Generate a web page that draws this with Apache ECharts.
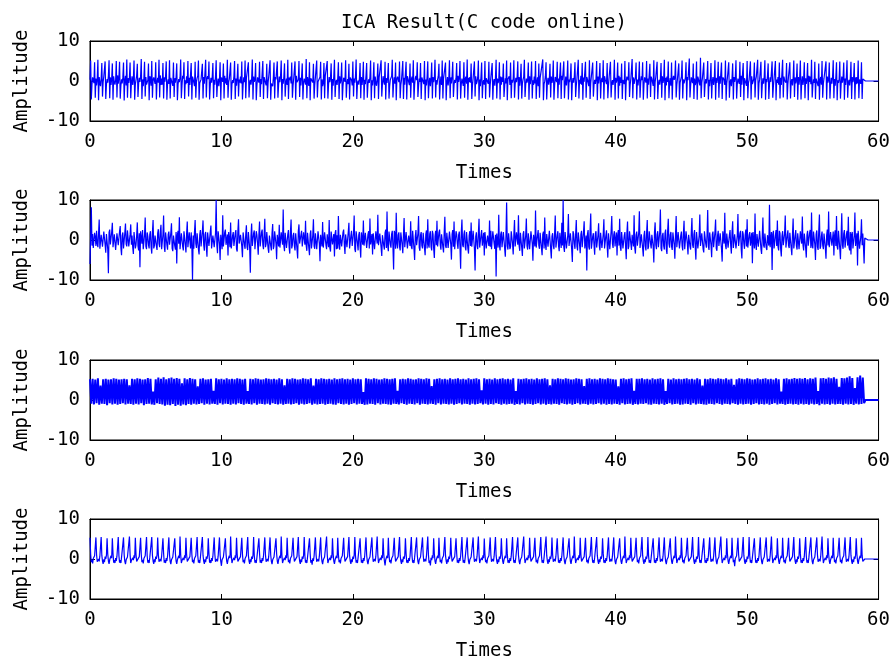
<!DOCTYPE html>
<html>
<head>
<meta charset="utf-8">
<script src="https://cdn.jsdelivr.net/npm/echarts@6/dist/echarts.min.js"></script>
<style>
html,body{margin:0;padding:0;background:#fff;}
#chart{width:893px;height:663px;}
</style>
</head>
<body>
<div id="chart"></div>
<script>
const titleText = 'ICA Result(C code online)';
const xLabelName = 'Times';
const yLabelName = 'Amplitude';
const xTicks = [0, 10, 20, 30, 40, 50, 60];
const yTicks = [-10, 0, 10];
// sampling step (seconds) of each component; sample i is at time i*step, from 0 to 60
const sampleSteps = [0.05, 0.05, 0.1, 0.05];

// Component 1 (one row = 3 s)
const comp1 = [
0.3,5.1,-4.6,-0.8,0.9,1.2,-0.5,4.7,-4.2,0.6,-1.1,0.4,5.3,-4.8,1.0,-0.6,-1.3,0.7,4.5,-3.9,-0.2,1.1,0.8,4.9,-4.5,-0.9,0.5,-0.4,1.3,5.2,-4.3,0.9,-1.0,0.6,4.4,-4.7,1.2,-0.3,-0.9,0.2,5.0,-4.1,1.4,-0.7,1.0,4.8,-4.4,-1.2,0.4,-0.6,0.9,4.6,-4.9,0.1,1.3,-1.1,5.4,-4.2,0.7,-0.5,
0.9,4.6,-4.3,-0.4,1.2,-1.0,0.5,5.1,-4.7,-0.8,0.3,1.3,4.3,-4.0,-0.6,0.8,-0.2,1.1,5.5,-4.5,0.4,-1.3,0.7,4.8,-3.9,1.0,-0.9,-0.5,0.2,4.4,-4.8,1.2,0.6,-1.2,5.0,-4.2,0.3,0.9,1.1,-0.7,4.7,-4.6,-0.3,0.8,-0.4,5.3,-4.1,1.4,-1.0,0.6,-0.9,4.5,-4.4,0.9,-0.2,1.2,4.9,-4.7,-0.6,0.4,
-0.7,5.2,-4.4,0.8,1.1,0.3,-1.2,4.6,-4.0,0.7,-0.4,1.0,4.4,-4.8,-0.9,0.5,-0.3,0.9,5.4,-4.3,-1.1,1.3,0.6,4.7,-4.5,0.2,-0.8,1.2,-0.5,5.0,-3.9,0.8,-1.0,-0.6,4.5,-4.6,1.1,0.4,0.9,-1.3,4.8,-4.2,-0.2,0.7,1.3,5.1,-4.7,-0.5,-1.0,0.4,0.8,4.3,-4.4,1.0,-0.7,-0.9,5.3,-4.1,0.6,1.2,
0.5,4.9,-4.6,-1.1,0.8,-0.4,1.0,4.5,-4.3,0.3,-0.9,1.2,5.2,-4.0,-0.7,0.6,-1.3,0.4,4.7,-4.8,0.9,1.1,-0.2,4.4,-4.4,1.3,-0.6,0.7,-1.0,5.3,-4.2,-0.3,0.5,1.0,4.6,-4.7,-0.8,0.2,-0.5,1.2,5.0,-4.5,0.6,-1.2,0.8,4.3,-3.9,0.4,-0.4,1.1,-0.6,4.9,-4.6,-1.0,0.9,-0.3,5.1,-4.3,0.7,1.0,
1.2,4.7,-4.1,-0.5,0.3,-0.9,0.6,5.4,-4.6,1.1,-0.2,0.4,4.5,-4.8,-1.2,0.9,1.3,-0.4,4.8,-4.0,0.5,-0.8,-0.7,5.0,-4.5,1.0,0.2,0.6,-1.1,4.3,-4.3,-0.4,1.2,0.9,5.2,-4.7,-0.6,-0.1,-1.3,0.8,4.6,-4.4,1.0,0.4,0.1,4.9,-4.2,-0.9,1.1,-0.3,1.3,5.1,-4.8,0.5,-0.7,1.0,4.4,-3.9,-0.4,0.6,
-1.0,5.3,-4.5,0.9,0.2,1.1,-0.6,4.6,-4.2,-1.2,0.7,0.5,4.9,-4.7,1.3,-0.3,-0.8,0.4,5.0,-4.0,0.8,-1.1,1.2,4.4,-4.6,-0.5,0.6,0.3,-0.9,5.5,-4.3,1.0,-0.2,-1.2,4.7,-4.8,0.7,1.1,0.6,-0.4,4.3,-4.4,-0.9,0.9,1.3,5.1,-4.1,-0.2,-0.7,0.2,1.0,4.8,-4.6,0.4,-1.3,-0.5,4.5,-4.3,1.2,0.8,
0.7,5.0,-4.4,-0.9,1.0,-0.3,0.9,4.4,-4.7,0.5,-1.2,1.1,5.3,-4.0,-0.4,0.3,-1.0,0.6,4.7,-4.5,1.2,-0.6,0.4,4.6,-4.8,-1.3,0.8,1.0,-0.2,5.2,-4.2,-0.7,0.5,-0.8,4.3,-4.6,0.9,1.3,0.2,-1.1,4.9,-3.9,0.6,-0.4,1.2,5.4,-4.5,-0.6,0.1,-0.9,0.7,4.5,-4.3,1.0,-1.0,0.5,4.8,-4.7,0.3,-0.8,
1.3,4.5,-4.2,-0.7,0.4,-0.5,1.0,5.1,-4.8,0.2,-1.1,0.8,4.7,-4.3,1.1,-0.4,-1.2,0.3,4.4,-4.5,0.9,0.6,0.5,5.2,-3.9,-0.8,1.2,-0.1,-0.9,4.8,-4.6,0.7,-0.5,1.0,4.5,-4.4,-1.3,0.3,0.6,1.2,5.3,-4.1,-0.6,0.9,-0.7,4.6,-4.8,0.4,1.1,1.2,-0.3,4.9,-4.3,-1.0,0.2,0.3,5.0,-4.5,0.8,-0.9,
-0.6,4.8,-4.6,1.2,0.5,0.9,-1.0,4.4,-4.2,0.3,1.1,-0.4,5.2,-4.7,-0.9,0.7,1.3,0.2,4.7,-4.0,-1.2,0.6,-0.2,4.5,-4.5,0.9,1.0,0.5,-0.8,5.0,-4.8,0.4,-1.1,1.1,4.9,-4.3,-0.5,0.8,-1.3,0.6,4.6,-4.4,1.0,-0.3,0.7,5.3,-4.1,0.2,-0.9,0.4,1.2,4.3,-4.6,-0.7,1.1,-1.0,5.1,-4.4,0.6,0.3,
0.8,4.6,-4.8,-0.4,1.0,-1.1,0.5,5.2,-4.3,0.9,-0.6,1.2,4.8,-4.0,-1.0,0.3,-0.5,0.7,4.5,-4.6,1.3,-0.2,0.9,5.0,-4.4,-0.8,0.6,0.2,-1.2,4.7,-4.2,0.5,1.1,-0.7,5.4,-4.7,0.8,-0.3,1.0,-0.4,4.4,-4.5,-1.1,0.7,0.6,4.9,-3.9,1.2,-0.8,-0.2,0.9,5.1,-4.8,0.4,-1.3,1.1,4.6,-4.3,-0.5,0.2,
-0.9,5.0,-4.5,0.7,1.2,0.4,-0.7,4.8,-4.1,-1.0,0.9,1.3,4.5,-4.7,-0.3,0.5,-1.2,0.8,5.3,-4.4,0.6,-0.5,0.2,4.7,-4.6,1.1,-0.9,0.9,-0.2,4.4,-4.0,-1.3,0.7,-0.6,5.1,-4.8,0.5,1.0,1.2,-1.0,4.6,-4.3,0.3,-0.4,0.5,5.2,-4.2,-0.8,0.8,-0.3,1.1,4.9,-4.6,1.0,-1.2,0.7,4.3,-4.4,-0.6,0.4,
1.0,5.3,-4.0,-1.1,0.6,-0.4,0.3,4.6,-4.7,1.2,-0.8,0.8,4.9,-4.4,0.2,-1.0,1.1,-0.6,5.0,-4.5,-0.3,0.9,-1.3,4.4,-4.2,0.7,0.5,0.6,1.0,5.4,-4.8,-0.7,-0.1,1.2,4.7,-4.6,-0.4,0.8,-0.9,0.4,4.3,-4.1,1.1,-0.5,0.3,5.1,-4.7,-1.2,1.0,0.9,-0.3,4.8,-4.3,0.6,-0.9,-0.5,4.6,-4.5,1.3,0.2,
0.6,4.9,-4.3,-0.8,1.1,-1.1,0.9,5.1,-4.6,0.4,-0.3,1.0,4.4,-4.8,-0.5,0.7,-0.4,1.2,4.7,-4.0,-1.2,0.5,0.8,5.3,-4.4,0.3,-0.7,1.3,-0.9,4.5,-4.7,0.9,-0.2,-0.6,4.8,-4.2,1.0,0.4,0.5,-1.3,5.2,-4.5,-0.4,1.2,0.9,4.6,-3.9,-1.0,0.3,-0.7,0.6,5.0,-4.8,1.1,-0.6,1.2,4.5,-4.4,-0.2,0.8,
-0.3,5.2,-4.6,1.2,0.4,0.7,-0.8,4.5,-4.3,-1.1,1.0,1.1,4.8,-4.1,-0.6,0.2,-1.0,0.5,5.3,-4.7,0.8,-0.4,0.4,4.6,-4.4,1.3,-1.2,0.9,-0.5,4.4,-4.5,0.3,0.7,-0.8,5.0,-4.8,-0.2,1.1,1.3,0.2,4.7,-4.0,-0.9,0.5,0.6,5.5,-4.3,0.9,-0.7,-0.4,1.0,4.6,-4.6,0.4,-1.1,0.8,4.9,-4.2,-0.5,1.2,
0.2,4.7,-4.7,-1.0,0.9,1.2,-0.4,5.0,-4.4,0.6,-0.9,-0.6,4.3,-4.0,1.1,0.5,0.8,-1.2,5.2,-4.6,-0.3,1.0,1.0,4.8,-4.5,-0.7,0.3,-0.9,0.6,4.5,-4.2,1.2,-0.5,0.4,5.3,-4.8,0.8,-1.1,1.1,-0.2,4.9,-4.3,-0.6,0.7,-1.2,4.6,-4.6,0.5,1.3,0.3,0.9,5.1,-4.1,-1.0,0.6,0.7,4.4,-4.7,-0.4,-0.8,
1.1,5.1,-4.4,0.4,-0.6,-0.8,0.8,4.7,-4.8,1.0,0.2,0.5,5.6,-4.1,-1.2,0.9,1.3,-0.5,4.4,-4.5,0.6,-1.0,-0.3,4.9,-4.7,1.1,0.4,0.7,-1.1,5.8,-4.3,-0.4,0.8,1.0,4.6,-4.0,-0.9,0.5,-0.6,1.2,5.0,-4.6,0.3,-1.3,0.9,4.5,-4.4,-0.2,1.0,-1.0,0.4,5.2,-4.7,0.8,-0.5,0.6,4.8,-4.2,1.2,-0.7,
-0.5,4.6,-4.5,0.9,1.1,0.3,-1.0,5.1,-4.9,-0.6,0.8,1.2,4.7,-4.2,-0.4,0.4,-1.3,0.6,4.4,-4.6,1.0,-0.2,0.8,5.2,-4.4,-0.8,0.6,0.1,-0.7,4.8,-4.0,1.3,-0.9,-0.4,4.5,-4.8,0.7,1.0,1.1,-1.2,5.0,-4.3,-0.5,0.3,0.6,4.9,-4.6,1.2,-0.8,-0.9,0.5,4.6,-4.1,0.2,1.1,1.0,5.3,-4.7,-0.6,0.4,
0.4,4.8,-4.3,-1.1,0.7,-0.7,1.1,5.2,-4.7,0.5,-0.3,1.3,4.4,-4.5,-0.8,0.9,-0.2,0.3,4.9,-4.2,-1.2,0.6,0.9,5.0,-4.8,0.4,-0.5,1.0,-0.9,4.6,-4.4,0.8,-1.0,-0.6,5.3,-4.1,1.1,0.2,0.7,-0.4,4.5,-4.6,-0.8,1.2,1.2,4.7,-4.4,-0.3,0.5,-1.1,0.8,5.1,-4.0,0.9,-0.6,0.3,4.4,-4.7,1.0,-0.9,
0.9,5.1,-4.6,-0.4,1.2,-1.0,0.5,4.7,-4.3,0.7,-0.7,0.6,4.5,-4.8,1.3,-0.2,1.1,-0.8,5.3,-4.1,-1.1,0.4,-0.5,4.8,-4.5,0.6,0.9,0.8,-1.3,4.4,-4.7,0.3,1.0,-0.9,5.0,-4.2,-0.6,0.7,1.2,0.2,4.9,-4.6,1.1,-0.4,0.4,4.6,-4.4,-1.0,0.8,-0.7,1.0,5.2,-4.3,0.5,-1.2,1.0,4.7,-4.8,0.2,-0.5,
0.5,4.9,-4.4,-0.9,1.1,-0.4,0.8,4.6,-4.7,0.6,-1.0,1.2,5.2,-4.2,-0.5,0.3,-1.1,0.7,4.8,-4.5,1.0,-0.3,0.6,4.5,-4.6,0.9,-0.8,1.0,-0.6,5.1,-4.3,0.4,0.8,-0.7,4.7,-4.5,0.5,0.2,0,0,0,0,0,0,0,0,0,0,0,0,0,0,0,0,0,0,0,0,0,0,
0
];

// Component 2 (one row = 3 s)
const comp2 = [
-6.0,1.2,8.2,-1.4,1.5,-2.0,-2.1,1.8,0.8,-1.5,2.3,-0.9,-1.8,1.6,5.1,-2.2,-2.4,1.3,1.2,-1.7,-1.5,2.1,2.0,-1.2,-3.2,1.5,1.7,-2.3,-8.3,1.9,2.6,-1.1,-0.9,2.0,4.3,-1.8,-2.2,1.4,1.4,-2.5,-2.7,1.7,2.1,-1.3,-1.0,2.2,3.5,-1.9,-3.8,1.1,1.9,-2.1,-2.3,1.8,4.1,-1.0,-1.6,2.4,2.2,-1.6,
-2.0,1.4,3.9,-1.2,1.1,-1.8,-3.5,2.0,2.4,-2.1,-1.2,1.1,4.4,-1.5,-2.6,1.7,-6.8,2.2,1.8,-0.9,2.5,-2.3,-1.9,1.3,5.6,-1.6,-2.3,1.9,0.9,-1.2,-2.1,1.4,2.2,-1.8,-3.4,2.0,5.0,-2.1,-1.4,1.1,1.6,-1.5,-2.5,1.7,2.7,-0.9,-1.8,2.2,3.8,-2.3,-2.2,1.3,6.1,-1.6,-3.0,1.9,1.5,-1.2,-2.4,1.4,
2.1,-1.2,-1.7,1.8,4.2,-2.1,-2.8,1.1,1.3,-1.5,-2.4,2.0,-5.9,1.3,2.3,-0.9,5.7,-2.3,-1.9,1.7,1.4,-1.6,-2.6,2.2,2.0,-1.2,-3.1,1.4,4.6,-1.8,-1.5,1.9,2.4,-2.1,1.9,-1.5,-10.0,1.1,-2.2,2.0,5.0,-0.9,-2.0,1.7,1.6,-2.3,-3.6,1.3,2.5,-1.6,-1.3,2.2,4.9,-1.2,-2.7,1.4,2.0,-1.8,-4.2,1.9,
2.3,-1.5,-1.8,2.0,3.6,-2.1,-2.5,1.1,1.1,-1.8,-2.0,1.7,10.0,-1.2,-3.3,2.2,2.2,-0.9,-5.0,1.3,1.7,-2.3,6.2,-1.6,-2.1,1.9,2.6,-1.2,-1.4,1.4,-3.9,2.0,1.8,-1.8,4.4,-2.1,-2.4,1.1,2.0,-1.5,-1.6,1.7,2.5,-2.3,-2.9,2.2,5.2,-0.9,-1.1,1.3,1.5,-1.6,-4.3,1.9,2.3,-1.2,-2.2,1.4,3.7,-1.8,
-2.5,2.0,1.9,-2.1,-8.2,1.1,4.1,-1.5,-1.3,1.7,2.4,-2.3,-2.0,2.2,1.2,-0.9,-3.7,1.3,4.6,-1.6,-1.8,1.9,2.6,-1.2,-2.3,1.4,5.3,-1.8,-1.0,2.0,2.0,-2.1,-3.2,1.1,1.6,-1.5,-2.6,1.7,4.0,-2.3,-1.5,2.2,2.2,-0.9,-4.8,1.3,1.4,-1.6,3.8,-1.9,-2.4,1.9,1.7,-1.2,7.6,-1.4,-2.8,1.8,2.1,-2.0,
-1.9,1.4,2.5,-1.8,-3.4,2.0,5.1,-2.1,-1.2,1.1,1.8,-1.5,-2.6,1.7,2.0,-2.3,-4.6,2.2,3.9,-0.9,-1.4,1.3,2.3,-1.6,-2.1,1.9,1.5,-1.2,4.8,-1.4,-2.7,1.8,1.9,-2.0,-3.8,1.4,2.4,-2.1,-1.6,1.1,5.2,-1.5,-2.2,1.7,1.7,-2.3,-2.5,2.2,2.6,-0.9,-5.3,1.3,1.3,-1.6,4.5,-1.9,-1.8,1.9,2.2,-1.2,
-2.3,1.4,1.6,-1.8,5.0,-2.0,-2.9,2.1,2.1,-1.1,-1.5,1.5,-4.1,1.7,2.5,-2.3,1.2,-2.2,6.0,-0.9,-2.4,1.3,1.8,-1.6,-2.0,1.9,2.6,-1.2,-3.5,1.4,1.4,-1.8,-1.7,2.0,4.3,-2.1,-2.5,1.1,2.3,-1.5,-1.2,1.7,6.1,-2.3,-3.0,2.2,1.9,-0.9,-2.6,1.3,2.0,-1.6,-4.4,1.9,2.4,-1.2,4.9,-1.4,-1.9,1.8,
1.7,-2.0,-2.5,1.4,2.2,-2.1,5.4,-1.1,-1.4,1.5,-3.6,1.7,1.9,-2.3,-2.2,2.2,2.5,-0.9,6.3,-1.3,-1.6,1.6,2.1,-1.9,-4.0,1.2,1.5,-1.4,-2.4,1.8,2.6,-2.0,7.1,-1.4,-2.8,2.1,1.8,-1.1,-1.9,1.5,2.3,-1.7,-7.4,2.3,1.6,-2.2,6.8,-0.9,-2.1,1.3,1.9,-1.6,-2.6,1.9,2.4,-1.2,-3.3,1.4,5.5,-1.8,
-1.8,2.0,2.2,-2.1,-2.5,1.1,1.6,-1.5,4.7,-1.7,-2.3,2.3,1.9,-2.2,-5.0,0.9,2.5,-1.3,-1.5,1.6,6.0,-1.9,-2.7,1.2,2.0,-1.4,-2.1,1.8,1.7,-2.0,-3.8,1.4,2.4,-2.1,5.2,-1.1,-1.9,1.5,2.2,-1.7,-2.6,2.3,1.5,-2.2,-4.5,0.9,2.3,-1.3,4.8,-1.6,-1.7,1.9,2.6,-1.2,-2.4,1.4,1.8,-1.8,-3.1,2.0,
5.8,-1.4,-2.0,1.8,2.3,-2.0,-1.6,2.1,1.9,-1.1,-4.9,1.5,2.5,-1.7,4.6,-2.3,-2.5,2.2,1.4,-0.9,-2.2,1.3,2.1,-1.6,-7.2,1.9,5.1,-1.2,-1.8,1.4,2.4,-1.8,-2.6,2.0,1.7,-2.1,-3.4,1.1,2.2,-1.5,4.4,-1.7,-1.5,2.3,2.6,-2.2,-7.6,0.9,1.9,-1.3,-2.3,1.6,5.3,-1.9,-2.0,1.2,2.5,-1.4,-1.4,1.8,
-3.9,2.0,2.0,-2.1,-2.5,1.1,1.6,-1.5,4.9,-1.7,2.3,-2.3,-1.8,2.2,2.5,-0.9,-2.2,1.3,-9.1,1.6,1.7,-1.9,6.3,-1.2,-2.6,1.4,2.1,-1.8,-1.5,2.0,2.2,-2.1,-4.2,1.1,9.4,-1.5,-2.4,1.7,1.9,-2.3,-1.7,2.2,2.6,-0.9,-3.6,1.3,5.0,-1.6,-2.0,1.9,2.4,-1.2,6.2,-1.4,-2.7,1.8,1.8,-2.0,-4.0,1.4,
2.2,-2.1,-1.9,1.1,5.4,-1.5,-2.4,1.7,1.6,-2.3,-2.6,2.2,2.3,-0.9,-5.2,1.3,1.8,-1.6,7.4,-1.9,-1.7,1.2,2.5,-1.4,-2.2,1.8,1.4,-2.0,-3.8,1.4,2.1,-2.1,5.6,-1.1,-2.5,1.5,1.9,-1.7,-1.6,2.3,2.4,-2.2,-4.6,0.9,1.7,-1.3,-2.3,1.6,6.1,-1.9,-1.5,1.2,2.2,-1.4,-2.8,1.8,1.6,-2.0,4.3,-1.4,
10.0,-1.8,-3.0,2.0,2.4,-2.1,-2.5,1.1,6.5,-1.5,-1.8,1.7,2.1,-2.3,-5.5,2.2,1.5,-0.9,-2.2,1.3,5.0,-1.6,-2.6,1.9,1.8,-1.2,-3.3,1.4,2.3,-1.8,-1.6,2.0,4.7,-2.1,-2.1,1.1,-7.6,1.5,2.5,-1.7,-2.4,2.3,6.6,-2.2,-1.9,0.9,1.7,-1.3,-3.7,1.6,2.2,-1.9,-1.5,1.2,4.2,-1.4,-2.6,1.8,1.9,-2.0,
-2.3,1.4,5.2,-2.1,-1.8,1.1,2.4,-1.5,-4.4,1.7,1.6,-2.3,-2.5,2.2,6.0,-0.9,-2.0,1.3,2.2,-1.6,-1.4,1.9,-3.9,1.2,2.5,-1.4,5.3,-1.8,-2.7,2.0,1.8,-2.1,-2.2,1.1,2.0,-1.5,-4.8,1.7,4.6,-2.3,-1.6,2.2,2.4,-0.9,-2.5,1.3,1.7,-1.6,6.2,-1.9,-3.4,1.2,2.1,-1.4,-1.9,1.8,7.2,-2.0,-2.4,1.4,
1.9,-2.1,-4.1,1.1,2.3,-1.5,-2.6,1.7,5.0,-2.3,-1.7,2.2,2.5,-0.9,-2.1,1.3,1.6,-1.6,-5.6,1.9,4.4,-1.2,-2.3,1.4,2.2,-1.8,-1.5,2.0,7.6,-2.1,-2.8,1.1,1.8,-1.5,-2.4,1.7,2.6,-2.3,-3.5,2.2,5.3,-0.9,-1.9,1.3,2.0,-1.6,-2.5,1.9,1.4,-1.2,-4.7,1.4,6.0,-1.8,-2.2,2.0,2.4,-2.1,-1.6,1.1,
2.1,-1.5,-2.6,1.7,4.8,-2.3,-1.8,2.2,2.3,-0.9,-3.6,1.3,1.7,-1.6,-2.4,1.9,5.5,-1.2,-2.0,1.4,2.5,-1.8,-4.9,2.0,1.6,-2.1,-2.2,1.1,6.4,-1.5,-1.5,1.7,2.2,-2.3,-3.1,2.2,2.4,-0.9,-1.9,1.3,7.5,-1.6,-2.5,1.9,1.8,-1.2,-4.3,1.4,2.1,-1.8,-1.6,2.0,5.1,-2.1,-2.7,1.1,2.3,-1.5,-2.0,1.7,
1.7,-2.3,-5.4,2.2,2.4,-0.9,6.8,-1.3,-2.3,1.6,2.0,-1.9,-1.6,1.2,2.5,-1.4,-3.4,1.8,4.7,-2.0,-2.1,1.4,1.9,-2.1,-2.6,1.1,6.5,-1.5,-1.8,1.7,2.3,-2.3,-4.6,2.2,1.5,-0.9,-2.2,1.3,2.6,-1.6,5.2,-1.9,-2.4,1.2,2.0,-1.4,-1.7,1.8,-5.8,2.0,2.2,-2.1,6.6,-1.1,-2.5,1.5,1.8,-1.7,-2.1,2.3,
2.4,-2.2,-3.5,0.9,5.6,-1.3,-1.9,1.6,2.1,-1.9,-2.5,1.2,1.6,-1.4,8.8,-1.8,-2.2,2.0,-7.5,1.4,2.3,-2.1,-1.8,1.1,2.5,-1.5,4.9,-1.7,-2.6,2.3,1.7,-2.2,-4.1,0.9,2.2,-1.3,-1.5,1.6,6.1,-1.9,-2.3,1.2,2.4,-1.4,-2.0,1.8,1.9,-2.0,-3.8,1.4,5.4,-2.1,-1.7,1.1,2.5,-1.5,-2.4,1.7,1.6,-2.3,
-2.2,2.2,2.0,-0.9,5.9,-1.3,-2.6,1.6,1.8,-1.9,-4.4,1.2,2.3,-1.4,-1.9,1.8,2.5,-2.0,6.9,-1.4,-2.1,2.1,1.7,-1.1,-5.0,1.5,2.4,-1.7,-2.5,2.3,6.4,-2.2,-1.6,0.9,2.1,-1.3,-2.3,1.6,1.9,-1.9,-4.7,1.2,2.6,-1.4,7.1,-1.8,-2.0,2.0,2.2,-1.4,-1.8,2.1,-3.9,1.1,2.4,-1.5,6.0,-1.7,-2.4,2.3,
2.1,-2.2,-4.8,0.9,6.7,-1.3,-2.2,1.6,2.5,-1.9,-1.7,1.2,2.3,-1.4,5.8,-1.8,-2.6,2.0,-3.6,1.4,2.0,-2.1,-2.1,1.1,6.9,-1.5,-1.9,1.7,-6.4,2.3,2.4,-2.2,-2.5,0.9,5.2,-1.3,1.6,-1.6,-5.9,0.5,0,0,0,0,0,0,0,0,0,0,0,0,0,0,0,0,0,0,0,0,
0
];

// Component 3 (one row = 3 s)
const comp3 = [
5.2,-0.9,5.3,-1.1,5.1,-0.8,5.4,-1.2,3.6,-0.9,5.2,-1.0,5.3,-1.3,5.1,-0.8,5.2,-1.1,5.4,-0.9,5.3,-1.2,5.1,-1.0,5.2,-0.8,5.3,-1.1,5.2,-0.9,
3.7,-1.0,5.3,-1.2,5.2,-0.9,5.4,-1.1,5.3,-0.8,5.1,-1.3,5.2,-1.0,5.5,-0.9,5.3,-1.1,2.1,-1.2,5.2,-0.8,5.6,-1.0,5.3,-1.1,5.7,-1.4,5.2,-1.2,
5.4,-1.3,5.6,-1.0,5.3,-1.5,5.5,-1.2,5.3,-1.4,4.2,-1.1,5.4,-1.3,5.2,-1.0,5.5,-1.2,5.3,-0.9,5.2,-1.1,3.4,-1.0,5.3,-0.8,5.4,-1.2,5.1,-0.9,
5.2,-1.1,5.3,-0.9,2.3,-1.0,5.4,-1.2,5.2,-0.8,5.3,-1.1,5.1,-0.9,5.4,-1.0,5.2,-1.2,5.3,-0.9,5.2,-1.1,5.4,-0.8,5.3,-1.0,5.1,-1.2,5.3,-0.9,
2.2,-1.0,5.3,-1.1,5.2,-0.8,5.4,-1.2,5.3,-0.9,5.1,-1.0,5.2,-1.1,5.4,-0.9,5.3,-1.2,5.2,-0.8,5.3,-1.0,5.1,-1.1,5.4,-0.9,5.2,-1.2,3.7,-1.0,
5.3,-0.9,5.2,-1.1,5.4,-1.0,5.3,-0.8,5.1,-1.2,5.2,-0.9,5.4,-1.1,5.3,-1.0,5.2,-0.8,5.4,-1.2,3.6,-0.9,5.3,-1.1,5.2,-1.0,5.4,-0.9,5.3,-1.2,
5.2,-1.0,5.3,-0.9,5.1,-1.1,5.4,-1.2,5.2,-0.8,5.3,-1.0,5.4,-1.1,5.2,-0.9,5.3,-1.2,5.1,-1.0,5.4,-0.8,5.2,-1.1,5.3,-0.9,5.2,-1.0,2.0,-1.2,
5.4,-1.1,5.3,-0.9,5.2,-1.0,5.4,-1.2,5.3,-0.8,5.1,-1.1,5.2,-0.9,5.4,-1.0,5.3,-1.1,5.2,-1.2,5.3,-0.9,5.4,-1.0,2.3,-1.1,5.2,-0.8,5.3,-1.0,
5.2,-1.2,5.4,-0.9,5.3,-1.0,5.1,-1.1,5.2,-0.8,5.4,-1.2,5.3,-0.9,5.2,-1.0,5.4,-1.1,5.3,-0.9,3.5,-1.0,5.2,-1.2,5.3,-0.8,5.4,-1.1,5.2,-0.9,
5.3,-1.0,5.1,-1.1,5.4,-0.9,5.2,-1.2,5.3,-1.0,5.4,-0.8,5.2,-1.1,5.3,-0.9,5.1,-1.0,5.4,-1.2,5.2,-0.9,5.3,-1.1,5.4,-1.0,5.2,-0.8,2.4,-1.1,
5.4,-0.9,5.2,-1.2,5.3,-1.0,5.1,-1.1,5.4,-0.8,5.2,-1.0,5.3,-1.2,5.4,-0.9,5.2,-1.1,5.3,-1.0,5.1,-0.9,5.4,-1.2,2.2,-1.0,5.3,-1.1,5.2,-0.8,
5.3,-1.1,5.4,-0.9,5.2,-1.0,5.3,-1.2,5.1,-1.0,5.4,-0.8,5.2,-1.1,5.3,-0.9,5.4,-1.2,5.2,-1.0,3.7,-1.1,5.3,-0.9,5.2,-1.0,5.4,-1.2,5.3,-0.8,
5.2,-1.0,5.4,-1.1,5.3,-0.9,5.1,-1.2,5.2,-1.0,5.4,-0.8,5.3,-1.1,5.2,-0.9,3.5,-1.0,5.3,-1.2,5.4,-0.9,5.2,-1.1,5.3,-1.0,5.1,-0.8,5.4,-1.1,
5.3,-0.9,5.2,-1.2,5.4,-1.0,5.3,-1.1,5.2,-0.9,5.1,-1.0,3.4,-1.2,5.3,-0.8,5.4,-1.1,5.2,-1.0,5.3,-0.9,5.4,-1.2,2.3,-1.0,5.3,-1.1,5.3,-0.9,
5.4,-1.0,5.2,-0.8,5.3,-1.1,5.1,-1.2,5.4,-0.9,5.2,-1.0,5.3,-1.1,5.4,-0.9,5.2,-1.2,2.2,-1.0,5.3,-0.8,5.1,-1.1,5.4,-1.0,5.2,-0.9,5.3,-1.2,
5.2,-1.1,5.3,-0.9,5.4,-1.0,5.2,-1.2,5.3,-0.8,5.1,-1.1,5.4,-0.9,5.2,-1.0,3.6,-1.1,5.3,-1.2,5.2,-0.9,5.4,-1.0,5.3,-1.1,5.2,-0.8,5.4,-1.0,
5.3,-1.2,5.2,-0.9,5.4,-1.0,5.1,-1.1,5.3,-0.8,3.8,-1.0,5.2,-1.2,5.4,-0.9,5.3,-1.1,5.2,-1.0,5.4,-0.9,5.3,-1.2,5.1,-1.0,5.2,-0.8,5.4,-1.1,
5.2,-1.0,5.3,-1.1,5.4,-0.9,5.2,-1.2,5.3,-1.0,5.1,-0.8,5.4,-1.1,5.2,-0.9,2.1,-1.0,5.3,-1.2,5.4,-1.0,5.2,-0.9,5.3,-1.1,5.5,-1.0,5.3,-1.2,
5.4,-0.9,5.3,-1.1,5.5,-1.0,5.2,-1.2,5.4,-0.9,5.3,-1.1,5.6,-1.0,2.2,-1.3,5.4,-0.9,5.5,-1.1,5.3,-1.0,5.6,-1.2,5.4,-0.9,5.7,-1.1,5.3,-1.0,
3.3,-1.0,5.5,-1.2,5.4,-0.9,5.6,-1.1,5.9,-1.0,5.5,-1.2,3.0,-0.9,5.7,-1.1,6.1,-1.0,5.6,-0.8,0,0,0,0,0,0,0,0,0,0,
0
];

// Component 4 (one row = 3 s)
const comp4 = [
5.3,1.2,-0.8,-0.2,-1.1,0.1,-0.4,0.8,0.3,5.4,1.1,-0.7,-1.1,0.0,-0.6,0.7,0.3,5.5,0.9,-0.5,-1.2,-0.1,-0.8,0.6,0.0,0.9,5.2,1.3,-0.5,-1.2,-0.2,-0.5,0.8,0.2,5.2,1.4,-0.9,-0.3,-1.0,0.2,-0.5,0.7,0.4,5.5,0.8,-0.9,-0.3,-1.0,0.4,-0.1,0.8,5.4,1.0,-0.6,-1.3,-0.2,-0.7,0.5,0.1,1.0,
5.6,1.1,-1.0,-0.4,-0.9,0.3,-0.3,0.9,0.2,5.3,1.2,-0.6,-1.0,-0.1,-0.7,0.6,0.4,5.3,1.2,-0.8,-0.2,-1.1,0.1,-0.4,0.8,0.3,5.5,0.8,-0.9,-0.3,-1.0,0.4,-0.1,0.8,5.5,0.9,-0.5,-1.2,-0.1,-0.8,0.6,0.0,0.9,5.4,1.1,-0.7,-1.1,0.0,-0.6,0.7,0.3,5.2,1.4,-0.9,-0.3,-1.0,0.2,-0.5,0.7,0.4,
5.4,1.0,-0.6,-1.3,-0.2,-0.7,0.5,0.1,1.0,5.2,1.3,-0.5,-1.2,-0.2,-0.5,0.8,0.2,5.6,1.1,-1.0,-0.4,-0.9,0.3,-0.3,0.9,0.2,5.3,1.2,-0.6,-1.0,-0.1,-0.7,0.6,0.4,5.3,1.2,-0.8,-0.2,-1.1,0.1,-0.4,0.8,0.3,5.5,0.8,-0.9,-0.3,-1.0,0.4,-0.1,0.8,5.5,0.9,-0.5,-1.2,-0.1,-0.8,0.6,0.0,0.9,
5.2,1.4,-0.9,-0.3,-1.0,0.2,-0.5,0.7,0.4,5.4,1.1,-0.7,-1.1,0.0,-0.6,0.7,0.3,5.4,1.0,-0.6,-1.7,-0.2,-0.7,0.5,0.1,1.0,5.2,1.3,-0.5,-1.2,-0.2,-0.5,0.8,0.2,5.6,1.1,-1.0,-0.4,-0.9,0.3,-0.3,0.9,0.2,5.3,1.2,-0.6,-1.0,-0.1,-0.7,0.6,0.4,5.3,1.2,-0.8,-0.2,-1.1,0.1,-0.4,0.8,0.3,
5.5,0.9,-0.5,-1.2,-0.1,-0.8,0.6,0.0,0.9,5.5,0.8,-0.9,-0.3,-1.0,0.4,-0.1,0.8,5.2,1.4,-0.9,-0.3,-1.0,0.2,-0.5,0.7,0.4,5.4,1.1,-0.7,-1.1,0.0,-0.6,0.7,0.3,5.4,1.0,-0.6,-1.3,-0.2,-0.7,0.5,0.1,1.0,5.2,1.3,-0.5,-1.2,-0.2,-0.5,0.8,0.2,5.6,1.1,-1.0,-0.4,-0.9,0.3,-0.3,0.9,0.2,
5.3,1.2,-0.8,-0.2,-1.1,0.1,-0.4,0.8,0.3,5.3,1.2,-0.6,-1.0,-0.1,-0.7,0.6,0.4,5.5,0.9,-0.5,-1.2,-0.1,-0.8,0.6,0.0,0.9,5.5,0.8,-0.9,-0.3,-1.0,0.4,-0.1,0.8,5.2,1.4,-0.9,-0.3,-1.4,0.2,-0.5,0.7,0.4,5.4,1.1,-0.7,-1.1,0.0,-0.6,0.7,0.3,5.4,1.0,-0.6,-1.3,-0.2,-0.7,0.5,0.1,1.0,
5.6,1.1,-1.0,-0.4,-0.9,0.3,-0.3,0.9,0.2,5.2,1.3,-0.5,-1.2,-0.2,-0.5,0.8,0.2,5.3,1.2,-0.8,-0.2,-1.1,0.1,-0.4,0.8,0.3,5.3,1.2,-0.6,-1.0,-0.1,-0.7,0.6,0.4,5.5,0.9,-0.5,-1.2,-0.1,-0.8,0.6,0.0,0.9,5.5,0.8,-0.9,-0.3,-1.0,0.4,-0.1,0.8,5.2,1.4,-0.9,-0.3,-1.0,0.2,-0.5,0.7,0.4,
5.4,1.0,-0.6,-1.3,-0.2,-0.7,0.5,0.1,1.0,5.4,1.1,-0.7,-1.1,0.0,-0.6,0.7,0.3,5.6,1.1,-1.0,-0.4,-0.9,0.3,-0.3,0.9,0.2,5.2,1.3,-0.5,-1.6,-0.2,-0.5,0.8,0.2,5.3,1.2,-0.8,-0.2,-1.1,0.1,-0.4,0.8,0.3,5.3,1.2,-0.6,-1.0,-0.1,-0.7,0.6,0.4,5.5,0.9,-0.5,-1.2,-0.1,-0.8,0.6,0.0,0.9,
5.2,1.4,-0.9,-0.3,-1.0,0.2,-0.5,0.7,0.4,5.5,0.8,-0.9,-0.3,-1.0,0.4,-0.1,0.8,5.4,1.0,-0.6,-1.3,-0.2,-0.7,0.5,0.1,1.0,5.4,1.1,-0.7,-1.1,0.0,-0.6,0.7,0.3,5.6,1.1,-1.0,-0.4,-1.6,0.3,-0.3,0.9,0.2,5.2,1.3,-0.5,-1.2,-0.2,-0.5,0.8,0.2,5.3,1.2,-0.8,-0.2,-1.1,0.1,-0.4,0.8,0.3,
5.5,0.9,-0.5,-1.2,-0.1,-0.8,0.6,0.0,0.9,5.3,1.2,-0.6,-1.0,-0.1,-0.7,0.6,0.4,5.2,1.4,-0.9,-0.3,-1.0,0.2,-0.5,0.7,0.4,5.5,0.8,-0.9,-0.3,-1.0,0.4,-0.1,0.8,5.4,1.0,-0.6,-1.3,-0.2,-0.7,0.5,0.1,1.0,5.4,1.1,-0.7,-1.1,0.0,-0.6,0.7,0.3,5.6,1.1,-1.0,-0.4,-0.9,0.3,-0.3,0.9,0.2,
5.1,1.2,-0.8,-0.2,-1.1,0.1,-0.4,0.8,0.3,5.4,1.1,-0.7,-1.1,0.0,-0.6,0.7,0.3,5.5,0.9,-0.5,-1.2,-0.1,-0.8,0.6,0.0,0.9,5.2,1.3,-0.5,-1.2,-0.2,-0.5,0.8,0.2,5.2,1.4,-0.9,-0.3,-1.0,0.2,-0.5,0.7,0.4,5.5,0.8,-0.9,-0.3,-1.0,0.4,-0.1,0.8,5.4,1.0,-0.6,-1.3,-0.2,-0.7,0.5,0.1,1.0,
5.6,1.1,-1.0,-0.4,-0.9,0.3,-0.3,0.9,0.2,5.3,1.2,-0.6,-1.0,-0.1,-0.7,0.6,0.4,5.3,1.2,-0.8,-0.2,-1.1,0.1,-0.4,0.8,0.3,5.5,0.8,-0.9,-0.3,-1.0,0.4,-0.1,0.8,5.6,0.9,-0.5,-1.2,-0.1,-0.8,0.6,0.0,0.9,5.4,1.1,-0.7,-1.1,0.0,-0.6,0.7,0.3,5.2,1.4,-0.9,-0.3,-1.0,0.2,-0.5,0.7,0.4,
5.4,1.0,-0.6,-1.3,-0.2,-0.7,0.5,0.1,1.0,5.2,1.3,-0.5,-1.2,-0.2,-0.5,0.8,0.2,5.6,1.1,-1.0,-0.4,-0.9,0.3,-0.3,0.9,0.2,5.3,1.2,-0.6,-1.0,-0.1,-0.7,0.6,0.4,5.3,1.2,-0.8,-0.2,-1.1,0.1,-0.4,0.8,0.3,5.5,0.8,-0.9,-0.3,-1.0,0.4,-0.1,0.8,5.5,0.9,-0.5,-1.2,-0.1,-0.8,0.6,0.0,0.9,
5.2,1.4,-0.9,-0.3,-1.0,0.2,-0.5,0.7,0.4,5.4,1.1,-0.7,-1.1,0.0,-0.6,0.7,0.3,5.4,1.0,-0.6,-1.3,-0.2,-0.7,0.5,0.1,1.0,5.2,1.3,-0.5,-1.2,-0.2,-0.5,0.8,0.2,5.6,1.1,-1.0,-0.4,-0.9,0.3,-0.3,0.9,0.2,5.3,1.2,-0.6,-1.0,-0.1,-0.7,0.6,0.4,5.3,1.2,-0.8,-0.2,-1.1,0.1,-0.4,0.8,0.3,
5.5,0.9,-0.5,-1.2,-0.1,-0.8,0.6,0.0,0.9,5.5,0.8,-0.9,-0.3,-1.0,0.4,-0.1,0.8,5.2,1.4,-0.9,-0.3,-1.0,0.2,-0.5,0.7,0.4,5.4,1.1,-0.7,-1.1,0.0,-0.6,0.7,0.3,5.4,1.0,-0.6,-1.3,-0.2,-0.7,0.5,0.1,1.0,5.2,1.3,-0.5,-1.2,-0.2,-0.5,0.8,0.2,5.6,1.1,-1.0,-0.4,-0.9,0.3,-0.3,0.9,0.2,
5.3,1.2,-0.8,-0.2,-1.1,0.1,-0.4,0.8,0.3,5.3,1.2,-0.6,-1.0,-0.1,-0.7,0.6,0.4,5.5,0.9,-0.5,-1.2,-0.1,-0.8,0.6,0.0,0.9,5.5,0.8,-0.9,-0.3,-1.0,0.4,-0.1,0.8,5.2,1.4,-0.9,-0.3,-1.0,0.2,-0.5,0.7,0.4,5.4,1.1,-0.7,-1.1,0.0,-0.6,0.7,0.3,5.4,1.0,-0.6,-1.3,-0.2,-0.7,0.5,0.1,1.0,
5.6,1.1,-1.0,-0.4,-0.9,0.3,-0.3,0.9,0.2,5.2,1.3,-0.5,-1.2,-0.2,-0.5,0.8,0.2,5.3,1.2,-0.8,-0.2,-1.8,0.1,-0.4,0.8,0.3,5.3,1.2,-0.6,-1.0,-0.1,-0.7,0.6,0.4,5.5,0.9,-0.5,-1.2,-0.1,-0.8,0.6,0.0,0.9,5.5,0.8,-0.9,-0.3,-1.0,0.4,-0.1,0.8,5.2,1.4,-0.9,-0.3,-1.0,0.2,-0.5,0.7,0.4,
5.4,1.0,-0.6,-1.3,-0.2,-0.7,0.5,0.1,1.0,5.4,1.1,-0.7,-1.1,0.0,-0.6,0.7,0.3,5.6,1.1,-1.0,-0.4,-0.9,0.3,-0.3,0.9,0.2,5.2,1.3,-0.5,-1.2,-0.2,-0.5,0.8,0.2,5.3,1.2,-0.8,-0.2,-1.1,0.1,-0.4,0.8,0.3,5.3,1.2,-0.6,-1.0,-0.1,-0.7,0.6,0.4,5.5,0.9,-0.5,-1.2,-0.1,-0.8,0.6,0.0,0.9,
5.2,1.4,-0.9,-0.3,-1.0,0.2,-0.5,0.7,0.4,5.5,0.8,-0.9,-0.3,-1.0,0.4,-0.1,0.8,5.4,1.0,-0.6,-1.3,-0.2,-0.7,0.5,0.1,1.0,5.4,1.1,-0.7,-1.1,0.0,-0.6,0.7,0.3,5.6,1.1,-1.0,-0.4,-0.9,0.3,-0.3,0.9,0.2,5.2,1.3,-0.5,-1.2,-0.2,-0.5,0.8,0.2,5.3,1.2,-0.8,-0.2,-1.1,0.1,-0.4,0.8,0.3,
5.3,1.2,-0.8,-0.2,-1.1,0.1,-0.4,0.8,0.3,5.4,1.1,-0.7,-1.1,0.0,-0.6,0.7,0.3,5.5,0.9,-0.5,-1.2,-0.1,-0.8,0.6,0.0,0.9,5.2,1.3,-0.5,-1.2,-0.2,-0.5,0.8,0.2,5.3,0.9,-0.6,-0.9,-0.3,0,0,0,0,0,0,0,0,0,0,0,0,0,0,0,0,0,0,0,0,0,
0
];

const components = [comp1, comp2, comp3, comp4];
const panelTops = [41, 200, 360, 519];
const lineWidths = [1.2, 1.2, 2, 1.2];

const chart = echarts.init(document.getElementById('chart'), null, {renderer: 'canvas'});
const FONT = 'DejaVu Sans Mono';
const grids = [], xAxes = [], yAxes = [], series = [];
components.forEach((vals, k) => {
  const step = sampleSteps[k];
  grids.push({left: 90, right: 14, top: panelTops[k], height: 80, show: true,
    borderColor: '#000', borderWidth: 1, backgroundColor: '#fff'});
  const common = {gridIndex: k, type: 'value', min: xTicks[0], max: xTicks[xTicks.length - 1], interval: 10,
    axisLine: {show: true, onZero: false, lineStyle: {color: '#000', width: 1}},
    axisTick: {show: true, inside: true, length: 5, lineStyle: {color: '#000'}},
    splitLine: {show: false}};
  xAxes.push(Object.assign({}, common, {position: 'bottom',
    axisLabel: {show: true, margin: 12, color: '#000', fontFamily: FONT, fontSize: 19},
    name: xLabelName, nameLocation: 'middle', nameGap: 43,
    nameTextStyle: {color: '#000', fontFamily: FONT, fontSize: 19}}));
  xAxes.push(Object.assign({}, common, {position: 'top', axisLabel: {show: false}}));
  const ycommon = {gridIndex: k, type: 'value', min: yTicks[0], max: yTicks[yTicks.length - 1], interval: 10,
    axisLine: {show: true, onZero: false, lineStyle: {color: '#000', width: 1}},
    axisTick: {show: true, inside: true, length: 5, lineStyle: {color: '#000'}},
    splitLine: {show: false}};
  yAxes.push(Object.assign({}, ycommon, {position: 'left',
    axisLabel: {show: true, margin: 10, color: '#000', fontFamily: FONT, fontSize: 19},
    name: yLabelName, nameLocation: 'middle', nameGap: 58, nameRotate: 90,
    nameTextStyle: {color: '#000', fontFamily: FONT, fontSize: 19}}));
  yAxes.push(Object.assign({}, ycommon, {position: 'right', axisLabel: {show: false}}));
  series.push({type: 'line', xAxisIndex: 2 * k, yAxisIndex: 2 * k, showSymbol: false, symbol: 'none',
    animation: false, silent: true,
    lineStyle: {color: '#0000ff', width: lineWidths[k]},
    data: vals.map((v, i) => [+(i * step).toFixed(3), v])});
});

chart.setOption({
  backgroundColor: '#fff',
  animation: false,
  title: {text: titleText, left: 484, top: 14, textAlign: 'center', padding: 0,
    textStyle: {color: '#000', fontFamily: FONT, fontSize: 19, fontWeight: 'normal'}},
  grid: grids, xAxis: xAxes, yAxis: yAxes, series: series
});
</script>
</body>
</html>
